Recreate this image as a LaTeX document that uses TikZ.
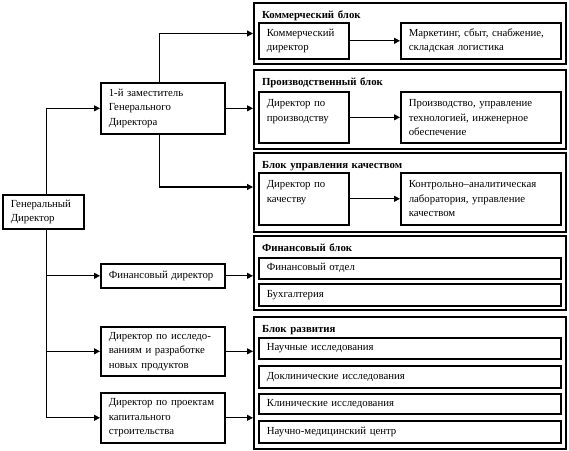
\documentclass[tikz,border=0pt]{standalone}
\usepackage{fontspec}
\setmainfont{Liberation Serif}
\usetikzlibrary{arrows.meta}
\tikzset{
  bx/.style={draw, line width=1.6pt, inner xsep=8pt, inner ysep=0pt, anchor=north west, align=left,
    font=\fontsize{10.8}{14.5}\selectfont},
  blk/.style={bx, line width=2pt, font=\fontsize{10.8}{14.5}\selectfont\bfseries},
  con/.style={line width=1.2pt, -{Triangle[length=6pt,width=6pt]}},
}
% centered box: name, x, y, w, h, text
\newcommand\bxc[7][]{%
  \pgfmathsetmacro\tw{#5-16}%
  \node[bx,#1,minimum width=#5pt,minimum height=#6pt,text width=\tw pt] (#2) at (#3,#4) {#7};}
% top aligned box
\newcommand\bxt[7][]{%
  \pgfmathsetmacro\tw{#5-16}\pgfmathsetmacro\td{#6-15}%
  \node[bx,#1,minimum width=#5pt,text width=\tw pt,text height=15pt,text depth=\td pt] (#2) at (#3,#4) {#7};}
\begin{document}
\begin{tikzpicture}[x=1pt,y=-1pt]
\useasboundingbox (0,0) rectangle (569,450);
% left column
\bxc{gd}{2}{194}{81}{34}{Генеральный\\Директор}
\bxc{dep}{100}{82}{124}{51}{1-й заместитель\\Генерального\\Директора}
\bxc{fin}{100}{263}{124}{24}{Финансовый директор}
\bxc{res}{100}{326}{124}{49}{Директор по исследо-\\ваниям и разработке\\новых продуктов}
\bxc{proj}{100}{392}{124}{50}{Директор по проектам\\капитального\\строительства}
% blocks
\bxt[blk]{b1}{253}{2}{312}{61}{Коммерческий блок}
\bxt[blk]{b2}{253}{69}{312}{79}{Производственный блок}
\bxt[blk]{b3}{253}{152}{312}{79}{Блок управления качеством}
\bxt[blk]{b4}{253}{235}{312}{74}{Финансовый блок}
\bxt[blk]{b5}{253}{316}{312}{132}{Блок развития}
% inner boxes
\bxc{cd}{258}{22}{90}{36}{Коммерческий\\директор}
\bxc{mk}{400}{22}{160}{36}{Маркетинг, сбыт, снабжение,\\складская логистика}
\bxt{pd}{258}{91}{90}{51}{Директор по\\производству}
\bxt{pr}{400}{91}{160}{51}{Производство, управление\\технологией, инженерное\\обеспечение}
\bxt{qd}{258}{172}{90}{52}{Директор по\\качеству}
\bxt{ql}{400}{172}{160}{52}{Контрольно–аналитическая\\лаборатория, управление\\качеством}
\bxc{f1}{258}{257}{302}{21}{Финансовый отдел}
\bxc{f2}{258}{283}{302}{22}{Бухгалтерия}
\bxc{d1}{258}{337}{302}{21}{Научные исследования}
\bxc{d2}{258}{365}{302}{22}{Доклинические исследования}
\bxc{d3}{258}{393}{302}{20}{Клинические исследования}
\bxc{d4}{258}{420}{302}{22}{Научно-медицинский центр}
% connectors
\coordinate (gdx) at ([xshift=3pt]gd.north);
\coordinate (gdy) at ([xshift=3pt]gd.south);
\draw[con] (gdx) |- (dep.west);
\draw[con] (gdy) |- (fin.west);
\draw[con] (gdy) |- (res.west);
\draw[con] (gdy) |- (proj.west);
\coordinate (dpn) at ([xshift=-3pt]dep.north);
\coordinate (dps) at ([xshift=-3pt]dep.south);
\coordinate (q3) at ([yshift=5.5pt]b3.west);
\draw[con] (dpn) |- (b1.west);
\draw[con] (dep.east) -- (dep.east -| b2.west);
\draw[con] (dps) |- (q3);
\draw[con] (fin.east) -- (fin.east -| b4.west);
\draw[con] (res.east) -- (res.east -| b5.west);
\draw[con] (proj.east) -- (proj.east -| b5.west);
\draw[con] (cd.east) -- (mk.west);
\draw[con] (pd.east) -- (pd.east -| pr.west);
\draw[con] (qd.east) -- (qd.east -| ql.west);
\end{tikzpicture}
\end{document}
